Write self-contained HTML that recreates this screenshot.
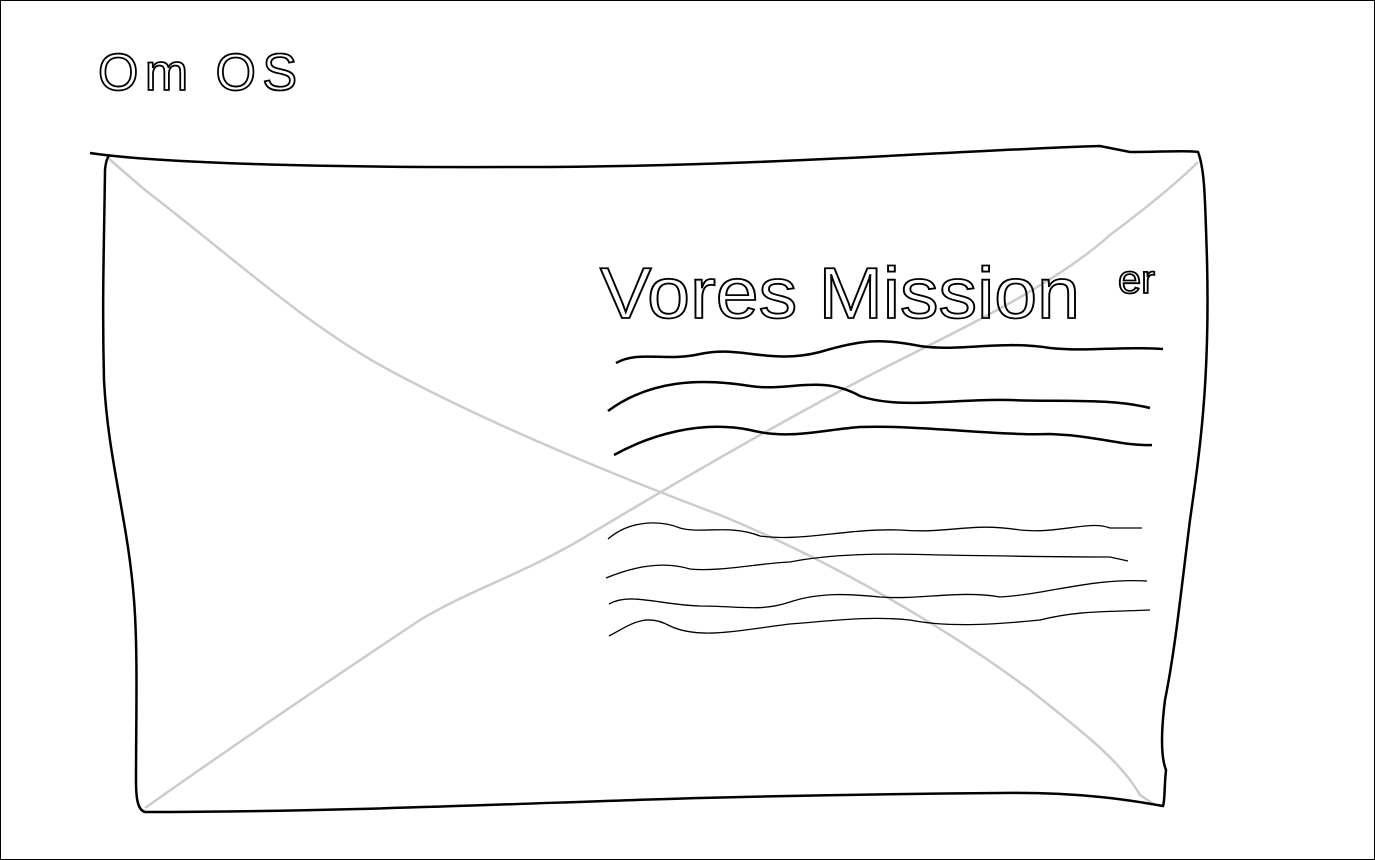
<!DOCTYPE html>
<html><head><meta charset="utf-8"><style>
html,body{margin:0;padding:0;background:#fff;}
svg{display:block;}
</style></head><body>
<svg width="1375" height="860" viewBox="0 0 1375 860">
<rect x="0.5" y="0.5" width="1374" height="859" fill="#fff" stroke="#000" stroke-width="1"/>
<text x="98" y="90" font-family="Liberation Sans, sans-serif" font-size="52" fill="none" stroke="#000" stroke-width="1.8" textLength="199" lengthAdjust="spacing">Om OS</text>
<g>
<path d="M108 158 L145 190 C230 255 300 320 380 365 C470 415 600 470 720 515 C830 560 950 630 1030 690 C1080 730 1120 760 1140 795 L1155 805" fill="none" stroke="#ccc" stroke-width="2.5"/>
<path d="M145 808 C220 755 330 680 420 620 C470 590 520 575 580 540 C680 480 800 410 900 360 C980 320 1060 280 1110 235 C1150 205 1180 180 1198 162" fill="none" stroke="#ccc" stroke-width="2.5"/>
<path d="M90 153 C150 162 300 168 520 167 C760 167 960 150 1100 146 L1130 152 C1160 152 1190 150 1198 152 C1205 170 1205 200 1207 260 C1210 380 1200 450 1190 520 C1180 600 1175 650 1165 700 C1160 740 1162 760 1166 770 C1164 790 1165 800 1163 806 C1130 800 1080 792 1000 793 C880 794 780 796 700 798 C550 802 350 812 145 812 C138 810 136 800 136 780 C136 720 138 650 134 600 C128 520 108 460 104 380 C102 300 104 250 105 170 C106 160 108 156 110 155" fill="none" stroke="#000" stroke-width="2.5"/>
</g>
<text x="600" y="318" font-family="Liberation Sans, sans-serif" font-size="72" fill="none" stroke="#000" stroke-width="1.8" textLength="480" lengthAdjust="spacingAndGlyphs">Vores Mission</text>
<text x="1118" y="293" font-family="Liberation Sans, sans-serif" font-size="40" fill="none" stroke="#000" stroke-width="1.8" textLength="37" lengthAdjust="spacingAndGlyphs">er</text>
<g fill="none" stroke="#000" stroke-width="2.5">
<path d="M616 363 C640 350 665 362 700 354 C740 345 770 365 820 352 C860 340 880 338 920 346 C960 352 1000 340 1050 348 C1090 352 1120 346 1163 349"/>
<path d="M608 411 C650 380 700 378 750 386 C790 392 820 374 860 396 C900 410 960 398 1010 400 C1060 402 1110 398 1150 408"/>
<path d="M614 455 C650 435 700 420 750 430 C790 440 820 430 860 427 C920 425 1000 436 1050 434 C1100 436 1120 446 1152 445"/>
</g>
<g fill="none" stroke="#000" stroke-width="1.3">
<path d="M608 539 C630 520 660 520 680 528 C700 534 730 524 760 536 C800 542 850 528 900 530 C950 534 970 522 1020 530 C1060 534 1090 520 1110 528 L1142 528"/>
<path d="M606 578 C630 568 660 560 690 569 C720 572 760 563 790 562 C830 554 880 553 940 555 C1000 556 1060 557 1110 557 L1128 561"/>
<path d="M609 604 C630 592 660 605 700 606 C740 606 760 612 790 602 C820 592 850 594 880 597 C920 600 960 590 1000 597 C1050 594 1090 578 1147 581"/>
<path d="M609 636 C630 625 645 612 670 626 C700 640 740 630 790 624 C840 620 870 616 910 620 C950 628 1000 624 1040 620 C1080 610 1110 612 1150 610"/>
</g>
</svg>
</body></html>
